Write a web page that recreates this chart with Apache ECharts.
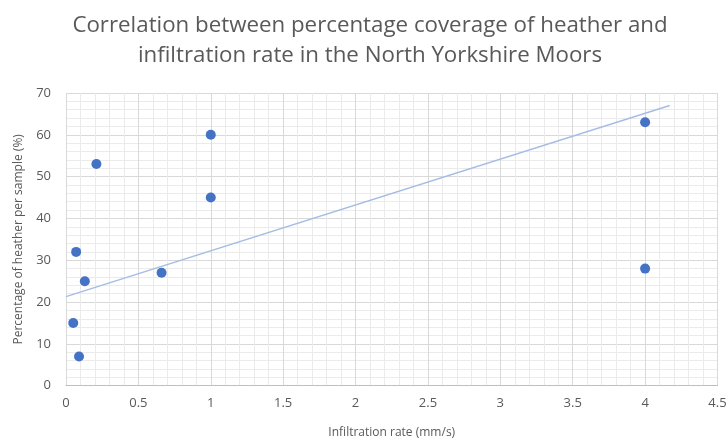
<!DOCTYPE html>
<html><head><meta charset="utf-8">
<script src="https://cdn.jsdelivr.net/npm/echarts@6/dist/echarts.min.js"></script>
<style>html,body{margin:0;padding:0;background:#fff}#c{width:726px;height:441px}</style>
</head><body><div id="c"></div>
<script>
const titleText = 'Correlation between percentage coverage of heather and\ninfiltration rate in the North Yorkshire Moors';
const xName = 'Infiltration rate (mm/s)';
const yName = 'Percentage of heather per sample (%)';
const infiltration = [0.05, 0.09, 0.13, 0.07, 0.21, 0.66, 1, 1, 4, 4];
const heather = [15, 7, 25, 32, 53, 27, 60, 45, 63, 28];
const trendX = [0, 4.17];
const trendY = [21.3, 67];

const font = 'Open Sans';
const chart = echarts.init(document.getElementById('c'));
chart.setOption({
  animation: false,
  backgroundColor: '#fff',
  title: {
    text: titleText, left: 365, textAlign: 'center', top: 6,
    textStyle: {fontFamily: font, fontSize: 22.3, fontWeight: 'normal', color: '#595959', lineHeight: 30}
  },
  grid: {left: 66, right: 8.5, top: 93, bottom: 55.3, containLabel: false, outerBoundsMode: 'none'},
  xAxis: {
    type: 'value', min: 0, max: 4.5, interval: 0.5,
    name: xName, nameLocation: 'middle', nameGap: 41,
    nameTextStyle: {fontFamily: font, fontSize: 12, color: '#595959'},
    axisLine: {show: true, lineStyle: {color: '#bfbfbf'}},
    axisTick: {show: false},
    axisLabel: {fontFamily: font, fontSize: 13, color: '#595959', margin: 11},
    splitLine: {show: true, lineStyle: {color: '#d9d9d9', width: 1}},
    minorTick: {show: false, splitNumber: 5},
    minorSplitLine: {show: true, lineStyle: {color: '#ebebeb', width: 1}}
  },
  yAxis: {
    type: 'value', min: 0, max: 70, interval: 10,
    name: yName, nameLocation: 'middle', nameGap: 41,
    nameTextStyle: {fontFamily: font, fontSize: 12, color: '#595959'},
    axisLine: {show: false},
    axisTick: {show: false},
    axisLabel: {fontFamily: font, fontSize: 13, color: '#595959', margin: 15},
    splitLine: {show: true, lineStyle: {color: '#d9d9d9', width: 1}},
    minorTick: {show: false, splitNumber: 5},
    minorSplitLine: {show: true, lineStyle: {color: '#ebebeb', width: 1}}
  },
  series: [
    {
      type: 'line', data: trendX.map((x, i) => [x, trendY[i]]),
      symbol: 'none', lineStyle: {color: '#a6bde3', width: 1.5}, z: 2
    },
    {
      type: 'scatter', data: infiltration.map((x, i) => [x, heather[i]]),
      symbolSize: 10, itemStyle: {color: '#4472c4', opacity: 1}, z: 3
    }
  ]
});
</script></body></html>
